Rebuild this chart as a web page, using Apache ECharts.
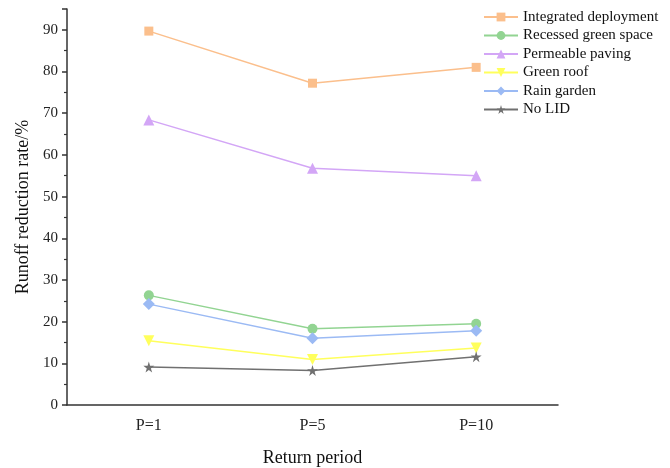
<!DOCTYPE html>
<html>
<head>
<meta charset="utf-8">
<script src="https://cdn.jsdelivr.net/npm/echarts@6/dist/echarts.min.js"></script>
<style>
  html, body { margin: 0; padding: 0; background: #fff; }
  #chart { width: 670px; height: 468px; }
</style>
</head>
<body>
<div id="chart"></div>
<script>
// 重现期类别
const periods = ['P=1', 'P=5', 'P=10'];

// 各方案径流削减率 (%)
const integrated = [89.7, 77.2, 81.0];
const recessed = [26.3, 18.3, 19.5];
const permeable = [68.4, 56.8, 55.0];
const greenRoof = [15.4, 10.9, 13.7];
const rainGarden = [24.2, 16.0, 17.8];
const noLid = [9.1, 8.3, 11.6];

const yTicks = [0, 10, 20, 30, 40, 50, 60, 70, 80, 90];

const starPath = 'path://M50,0 L61,35 L98,35 L68,57 L79,91 L50,70 L21,91 L32,57 L2,35 L39,35 Z';
const serif = 'Liberation Serif, Times New Roman, serif';

function makeSeries(name, data, color, symbol, rotate, size) {
    return {
        name: name,
        type: 'line',
        data: data,
        symbol: symbol,
        symbolSize: size,
        symbolRotate: rotate,
        lineStyle: { color: color, width: 1.5 },
        itemStyle: { color: color },
        emphasis: { disabled: true }
    };
}

const chart = echarts.init(document.getElementById('chart'));

const option = {
    animation: false,
    grid: { left: 67, right: 112, top: 9, bottom: 63, outerBoundsMode: 'none' },
    legend: {
        orient: 'vertical',
        left: 478,
        top: 4.5,
        itemWidth: 34,
        itemHeight: 11,
        itemGap: 3.5,
        textStyle: { fontFamily: serif, fontSize: 15, color: '#111', lineHeight: 15 },
        data: ['Integrated deployment', 'Recessed green space', 'Permeable paving', 'Green roof', 'Rain garden', 'No LID']
    },
    xAxis: {
        type: 'category',
        data: periods,
        boundaryGap: true,
        name: 'Return period',
        nameLocation: 'middle',
        nameGap: 44,
        nameTextStyle: { fontFamily: serif, fontSize: 18, color: '#111' },
        axisLine: { lineStyle: { color: '#333', width: 1.5 } },
        axisTick: { alignWithLabel: true, length: 5, lineStyle: { color: '#333', width: 1.5 } },
        axisLabel: { fontFamily: serif, fontSize: 16, color: '#222', margin: 13 },
        splitLine: { show: false }
    },
    yAxis: {
        type: 'value',
        min: 0,
        max: 95,
        interval: 10,
        name: 'Runoff reduction rate/%',
        nameLocation: 'middle',
        nameGap: 32,
        nameTextStyle: { fontFamily: serif, fontSize: 18, color: '#111' },
        axisLine: { show: true, lineStyle: { color: '#333', width: 1.5 } },
        axisTick: { show: true, length: 5, lineStyle: { color: '#333', width: 1.5 } },
        minorTick: { show: true, splitNumber: 2, length: 3, lineStyle: { color: '#333', width: 1.2 } },
        axisLabel: {
            fontFamily: serif, fontSize: 15, color: '#222', margin: 9,
            formatter: function (v) { return yTicks.indexOf(v) >= 0 ? String(v) : ''; }
        },
        splitLine: { show: false }
    },
    series: [
        makeSeries('Integrated deployment', integrated, '#fbbf8c', 'rect', 0, 9),
        makeSeries('Recessed green space', recessed, '#92d492', 'circle', 0, 10),
        makeSeries('Permeable paving', permeable, '#d3a6f6', 'triangle', 0, 11),
        makeSeries('Green roof', greenRoof, '#ffff5c', 'triangle', 180, 11),
        makeSeries('Rain garden', rainGarden, '#9bbaf4', 'diamond', 0, 12),
        makeSeries('No LID', noLid, '#707070', starPath, 0, 11)
    ]
};

chart.setOption(option);
</script>
</body>
</html>
